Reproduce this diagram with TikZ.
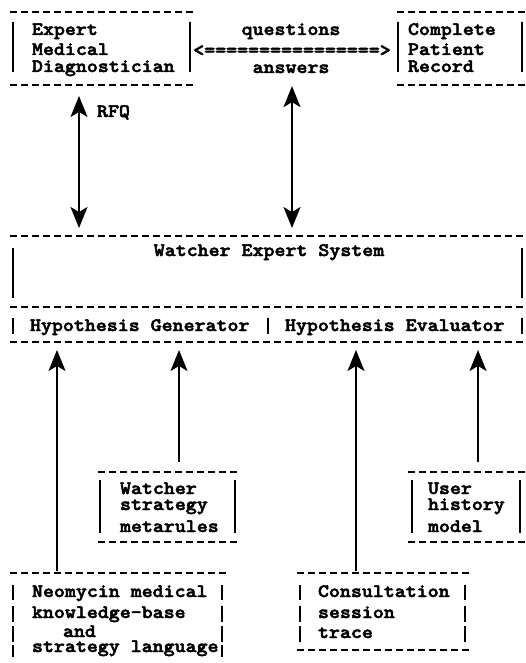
\documentclass[tikz,border=0pt]{standalone}
\usepackage{graphicx}
\usepackage{fontspec}
\newfontfamily\tyb{lmmonolt10-bold.otf}[FakeBold=2.5]
\usetikzlibrary{arrows.meta}
\newcommand\tw[1]{\scalebox{1.1}[1]{#1}}
\tikzset{
  x=1pt, y=-1pt,
  dashline/.style={line width=1.9pt, dash pattern=on 7pt off 4pt},
  bar/.style={line width=1.9pt},
  boxarea/.style={draw=none, inner sep=0pt, outer sep=0pt, rectangle},
  txt/.style={anchor=base west, inner sep=0pt, outer sep=0pt, font=\tyb\fontsize{19}{22}\selectfont},
  ctxt/.style={txt, anchor=base},
  tip/.tip={Stealth[length=21pt,width=17pt,inset=5pt]},
  conn/.style={line width=1.6pt, -tip},
  dconn/.style={line width=1.6pt, tip-tip},
}
\begin{document}
\begin{tikzpicture}
\useasboundingbox (0,0) rectangle (526,663);

% ---------- box areas ----------
\node[boxarea, minimum width=183pt, minimum height=73pt] (expert) at (101.5,48.5) {};
\node[boxarea, minimum width=129pt, minimum height=73pt] (record) at (461.5,48.5) {};
\node[boxarea, minimum width=516pt, minimum height=71pt] (watcher) at (268,271.5) {};
\node[boxarea, minimum width=258pt, minimum height=35pt] (generator) at (139,324.5) {};
\node[boxarea, minimum width=258pt, minimum height=35pt] (evaluator) at (397,324.5) {};
\node[boxarea, minimum width=140pt, minimum height=70pt] (metarules) at (168,507) {};
\node[boxarea, minimum width=118pt, minimum height=70pt] (usermodel) at (467,507) {};
\node[boxarea, minimum width=217pt, minimum height=90pt] (neomycin) at (118.5,618) {};
\node[boxarea, minimum width=173pt, minimum height=77pt] (consult) at (383.5,611.5) {};

% ---------- dashed edges ----------
\draw[dashline] (expert.north west) -- (expert.north east);
\draw[dashline] (expert.south west) -- (expert.south east);
\draw[dashline] (record.north west) -- (record.north east);
\draw[dashline] (record.south west) -- (record.south east);
\draw[dashline] (watcher.north west) -- (watcher.north east);
\draw[dashline] (watcher.south west) -- (watcher.south east);
\draw[dashline] (generator.south west) -- (evaluator.south east);
\draw[dashline] (metarules.north west) -- (metarules.north east);
\draw[dashline] (metarules.south west) -- (metarules.south east);
\draw[dashline] (usermodel.north west) -- (usermodel.north east);
\draw[dashline] (usermodel.south west) -- (usermodel.south east);
\draw[dashline] (neomycin.north west) -- (neomycin.north east);
\draw[dashline] (consult.north west) -- (consult.north east);
\draw[dashline] (consult.south west) -- (consult.south east);

% ---------- vertical bars ----------
\foreach \x in {13,190,398,522} \draw[bar] (\x,22) -- (\x,72);
\foreach \x in {13,522} \draw[bar] (\x,248) -- (\x,298);
\foreach \x in {13,268,522} \draw[bar] (\x,318) -- (\x,334);
\foreach \x in {100,235,412,520} \draw[bar] (\x,480) -- (\x,533);
\foreach \x in {13,222} {
  \draw[bar] (\x,585) -- (\x,600);
  \draw[bar] (\x,606) -- (\x,622);
  \draw[bar] (\x,626) -- (\x,642);
  \draw[bar] (\x,645) -- (\x,657);
}
\foreach \x in {300,465} {
  \draw[bar] (\x,585) -- (\x,600);
  \draw[bar] (\x,606) -- (\x,622);
  \draw[bar] (\x,626) -- (\x,642);
}

% ---------- texts ----------
\node[txt] (t1) at (32,35) {\tw{Expert}};
\node[txt] (t2) at (32,55) {\tw{Medical}};
\node[txt] (t3) at (32,72) {\tw{Diagnostician}};

\node[ctxt] (questions) at (291,35) {\tw{questions}};
\node[ctxt] (qa) at (292,56) {\tw{<================>}};
\node[ctxt] (answers) at (291,73) {\tw{answers}};

\node[txt] (t4) at (408,35) {\tw{Complete}};
\node[txt] (t5) at (408,55) {\tw{Patient}};
\node[txt] (t6) at (408,72) {\tw{Record}};

\node[txt] (rfq) at (97,117) {\tw{RFQ}};

\node[ctxt] (t7) at (269,256) {\tw{Watcher Expert System}};
\node[txt] (t8) at (30,331) {\tw{Hypothesis Generator}};
\node[txt] (t9) at (285,331) {\tw{Hypothesis Evaluator}};

\node[txt] (t10) at (120,494) {\tw{Watcher}};
\node[txt] (t11) at (120,510) {\tw{strategy}};
\node[txt] (t12) at (120,532) {\tw{metarules}};

\node[txt] (t13) at (428,494) {\tw{User}};
\node[txt] (t14) at (428,510) {\tw{history}};
\node[txt] (t15) at (428,532) {\tw{model}};

\node[txt] (t16) at (32,597) {\tw{Neomycin medical}};
\node[txt] (t17) at (32,618) {\tw{knowledge-base}};
\node[txt] (t18) at (63,637) {\tw{and}};
\node[txt] (t19) at (32,652) {\tw{strategy language}};

\node[txt] (t20) at (318,597) {\tw{Consultation}};
\node[txt] (t21) at (318,618) {\tw{session}};
\node[txt] (t22) at (318,638) {\tw{trace}};

% ---------- connectors ----------
\coordinate (xr) at (79,0);
\coordinate (xm) at (292,0);
\coordinate (xa) at (57,0);
\coordinate (xb) at (179,0);
\coordinate (xc) at (356,0);
\coordinate (xd) at (478,0);

\draw[dconn, shorten <=11pt, shorten >=8pt] (expert.south -| xr) -- (watcher.north -| xr);
\draw[dconn, shorten <=13pt, shorten >=8pt] (answers.south -| xm) -- (watcher.north -| xm);

\draw[conn, shorten <=2pt, shorten >=8pt] (neomycin.north -| xa) -- (generator.south -| xa);
\draw[conn, shorten <=10pt, shorten >=8pt] (metarules.north -| xb) -- (generator.south -| xb);
\draw[conn, shorten <=2pt, shorten >=8pt] (consult.north -| xc) -- (evaluator.south -| xc);
\draw[conn, shorten <=10pt, shorten >=8pt] (usermodel.north -| xd) -- (evaluator.south -| xd);
\end{tikzpicture}
\end{document}
